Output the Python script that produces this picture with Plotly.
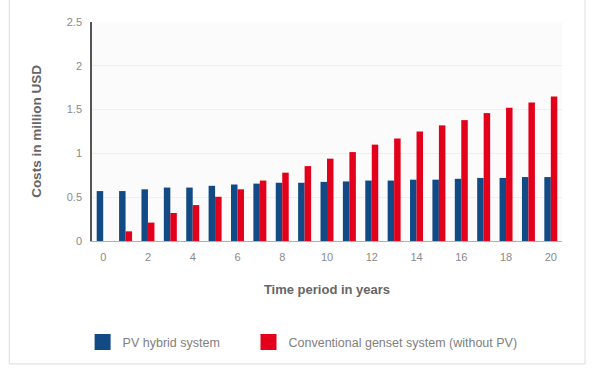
import plotly.graph_objects as go

years = list(range(0, 21))
pv_hybrid = [0.57, 0.57, 0.59, 0.61, 0.61, 0.63, 0.645, 0.655, 0.665, 0.665, 0.675,
             0.68, 0.69, 0.69, 0.70, 0.70, 0.71, 0.72, 0.72, 0.73, 0.73]
genset = [0.0, 0.11, 0.21, 0.32, 0.41, 0.505, 0.59, 0.69, 0.78, 0.855, 0.94,
          1.015, 1.10, 1.17, 1.25, 1.32, 1.38, 1.46, 1.52, 1.58, 1.65]
series_names = ["PV hybrid system", "Conventional genset system (without PV)"]
y_ticks = [0, 0.5, 1, 1.5, 2, 2.5]
y_tick_text = ["0", "0.5", "1", "1.5", "2", "2.5"]
x_ticks = list(range(0, 21, 2))

BLUE = "#124a85"
RED = "#e3001b"
FONT = "Liberation Sans, Arial, sans-serif"

fig = go.Figure()
for vals, name, col in [(pv_hybrid, series_names[0], BLUE), (genset, series_names[1], RED)]:
    fig.add_trace(go.Bar(x=years, y=vals, name=name, showlegend=False,
                         marker=dict(color=col, line=dict(width=0))))
# legend entries with larger square swatches
for name, col, lg in [(series_names[0], BLUE, "legend"), (series_names[1], RED, "legend2")]:
    fig.add_trace(go.Scatter(x=[None], y=[None], mode="markers", name=name, legend=lg,
                             marker=dict(symbol="square", size=16, color=col)))

legend_style = dict(orientation="h", xanchor="left", y=-0.463, yanchor="middle",
                    font=dict(family=FONT, size=12.5, color="#808080"),
                    bgcolor="rgba(0,0,0,0)", itemwidth=30, itemsizing="trace")

fig.update_layout(
    width=595, height=370,
    margin=dict(l=92, r=33, t=22, b=127),
    paper_bgcolor="white",
    plot_bgcolor="#fbfbfb",
    barmode="group",
    bargap=0.42,
    bargroupgap=0,
    font=dict(family=FONT, size=11, color="#888888"),
    showlegend=True,
    legend=dict(x=-0.02, **legend_style),
    legend2=dict(x=0.333, **legend_style),
    xaxis=dict(range=[-0.5, 20.5], tickmode="array", tickvals=x_ticks,
               showgrid=False, zeroline=False, showline=True, linecolor="#b0b0b0",
               linewidth=1, ticks="outside", ticklen=6, tickcolor="rgba(0,0,0,0)",
               tickfont=dict(size=11, color="#8a8a8a"),
               title=dict(text="<b>Time period in years</b>", standoff=22,
                          font=dict(size=13, color="#666666"))),
    yaxis=dict(range=[0, 2.5], tickmode="array", tickvals=y_ticks, ticktext=y_tick_text,
               showgrid=True, gridcolor="#efefef", gridwidth=1, zeroline=False,
               showline=True, linecolor="#555555", linewidth=1.5,
               ticks="outside", ticklen=6, tickcolor="rgba(0,0,0,0)",
               tickfont=dict(size=11, color="#8a8a8a"),
               title=dict(text="<b>Costs in million USD</b>", standoff=22,
                          font=dict(size=13.5, color="#666666"))),
    shapes=[dict(type="rect", xref="paper", yref="paper",
                 x0=-0.176, x1=1.049, y0=-0.561, y1=1.2,
                 line=dict(color="#e4e4e4", width=1.2), fillcolor="rgba(0,0,0,0)",
                 layer="below")],
)

fig.write_html("out.html")
